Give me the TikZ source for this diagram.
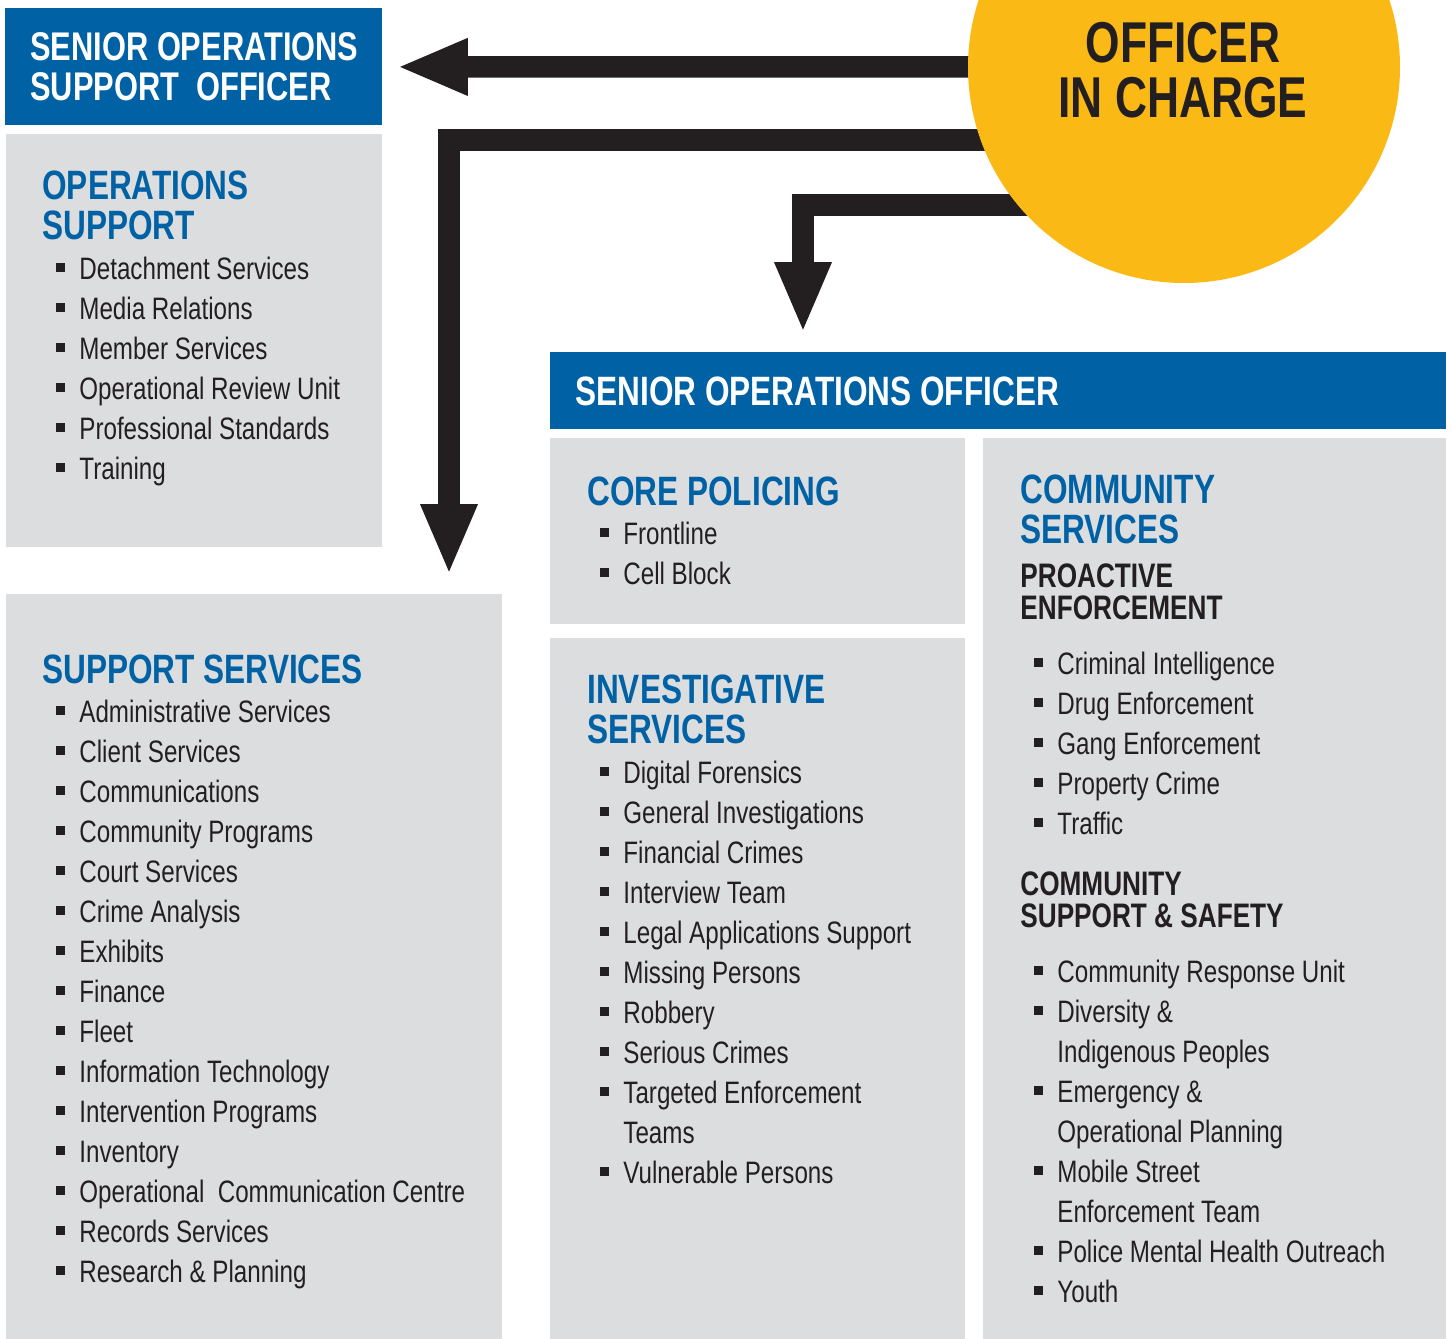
\documentclass[tikz,border=0pt]{standalone}
\usepackage{fontspec}
\setmainfont{Liberation Sans}[FakeStretch=0.78]
\newfontfamily\headface{Liberation Sans}[FakeStretch=0.77]
\usepackage{tikz}
\usetikzlibrary{arrows.meta, calc}
\usepackage{xcolor}

\definecolor{rcmpblue}{RGB}{0,98,164}
\definecolor{panelgray}{RGB}{220,221,223}
\definecolor{oicyellow}{RGB}{251,185,22}
\definecolor{inkblack}{RGB}{35,31,32}

\newcommand\itm[1]{\makebox[11.5pt][l]{\rule[3.5pt]{4.5pt}{4.5pt}}#1}
\newcommand\cnt[1]{\hspace*{11.5pt}#1}

\begin{document}
\begin{tikzpicture}[x=0.5pt, y=-0.5pt,
    panel/.style={fill=panelgray, anchor=north west, inner sep=0pt},
    bluebar/.style={fill=rcmpblue, anchor=north west, inner sep=0pt},
    bartext/.style={text=white, anchor=base west, align=left, inner sep=0pt,
        font=\headface\bfseries\fontsize{20.5pt}{20pt}\selectfont},
    heading/.style={text=rcmpblue, anchor=base west, align=left, inner sep=0pt,
        font=\headface\bfseries\fontsize{20.5pt}{20pt}\selectfont},
    subhead/.style={text=inkblack, anchor=base west, align=left, inner sep=0pt,
        font=\headface\bfseries\fontsize{17pt}{16pt}\selectfont},
    items/.style={text=inkblack, anchor=base west, align=left, inner sep=0pt,
        font=\fontsize{15.5pt}{20pt}\selectfont},
    flow/.style={draw=inkblack, line width=10.75pt, -{Triangle[length=35.5pt,width=26pt]}}]
        \useasboundingbox (0,0) rectangle (1452,1339);
        \clip (0,0) rectangle (1452,1339);
        % text nodes sit on the baseline of their last line

        % left column
        \node[bluebar, minimum width=188.5pt, minimum height=58.5pt] (soso) at (5,8) {};
        \node[bartext, font=\headface\bfseries\fontsize{20pt}{20pt}\selectfont] (sosotitle) at (30,100)
            {SENIOR OPERATIONS\\SUPPORT\ \ OFFICER};
        \node[panel, minimum width=188pt, minimum height=206.5pt] (opsup) at (6,134) {};
        \node[heading] (opsuptitle) at (42,239) {OPERATIONS\\SUPPORT};
        \node[items] (opsuplist) at (56,479) {\itm{Detachment Services}\\\itm{Media Relations}\\
            \itm{Member Services}\\\itm{Operational Review Unit}\\\itm{Professional Standards}\\
            \itm{Training}};
        \node[panel, minimum width=248pt, minimum height=375pt] (suppsvc) at (6,594) {};
        \node[heading] (suppsvctitle) at (42,683) {SUPPORT SERVICES};
        \node[items] (suppsvclist) at (56,1282) {\itm{Administrative Services}\\\itm{Client Services}\\
            \itm{Communications}\\\itm{Community Programs}\\\itm{Court Services}\\
            \itm{Crime Analysis}\\\itm{Exhibits}\\\itm{Finance}\\\itm{Fleet}\\
            \itm{Information Technology}\\\itm{Intervention Programs}\\\itm{Inventory}\\
            \itm{Operational\ \ Communication Centre}\\\itm{Records Services}\\
            \itm{Research \& Planning}};

        % right side
        \node[bluebar, minimum width=448pt, minimum height=38.5pt] (soo) at (550,352) {};
        \node[bartext] (sootitle) at (575,405) {SENIOR OPERATIONS OFFICER};
        \node[panel, minimum width=207.5pt, minimum height=93pt] (core) at (550,438) {};
        \node[heading] (coretitle) at (587,505) {CORE POLICING};
        \node[items] (corelist) at (600,584) {\itm{Frontline}\\\itm{Cell Block}};
        \node[panel, minimum width=207.5pt, minimum height=355pt] (invest) at (550,638) {};
        \node[heading] (investtitle) at (587,743) {INVESTIGATIVE\\SERVICES};
        \node[items] (investlist) at (600,1183) {\itm{Digital Forensics}\\\itm{General Investigations}\\
            \itm{Financial Crimes}\\\itm{Interview Team}\\\itm{Legal Applications Support}\\
            \itm{Missing Persons}\\\itm{Robbery}\\\itm{Serious Crimes}\\
            \itm{Targeted Enforcement}\\\cnt{Teams}\\\itm{Vulnerable Persons}};
        \node[panel, minimum width=231.5pt, minimum height=455pt] (commsvc) at (983,438) {};
        \node[heading] (commsvctitle) at (1020,543) {COMMUNITY\\SERVICES};
        \node[subhead] (proactive) at (1020,619) {PROACTIVE\\ENFORCEMENT};
        \node[items] (proactivelist) at (1034,834) {\itm{Criminal Intelligence}\\\itm{Drug Enforcement}\\
            \itm{Gang Enforcement}\\\itm{Property Crime}\\\itm{Traffic}};
        \node[subhead] (safety) at (1020,927) {COMMUNITY\\SUPPORT \& SAFETY};
        \node[items] (safetylist) at (1034,1302) {\itm{Community Response Unit}\\\itm{Diversity \&}\\
            \cnt{Indigenous Peoples}\\\itm{Emergency \&}\\\cnt{Operational Planning}\\
            \itm{Mobile Street}\\\cnt{Enforcement Team}\\\itm{Police Mental Health Outreach}\\
            \itm{Youth}};

        % reporting lines
        \coordinate (hub) at (1184,67);
        \draw[flow] (hub) -- ($(soso.east)+(14,0)$);
        \draw[flow] (hub |- 0,140) -| ($(suppsvc.north west)+(443,-19)$);
        \draw[flow] (hub |- 0,205) -| ($(soo.north west)+(253,-19)$);
        \node[circle, fill=oicyellow, minimum size=216pt, inner sep=0pt] (oic) at (hub) {};
        \node[text=inkblack, anchor=base, align=center, inner sep=0pt,
            font=\headface\bfseries\fontsize{28.8pt}{27.5pt}\selectfont] (oictitle) at (1183,117) {OFFICER\\IN CHARGE};
    \end{tikzpicture}
\end{document}
